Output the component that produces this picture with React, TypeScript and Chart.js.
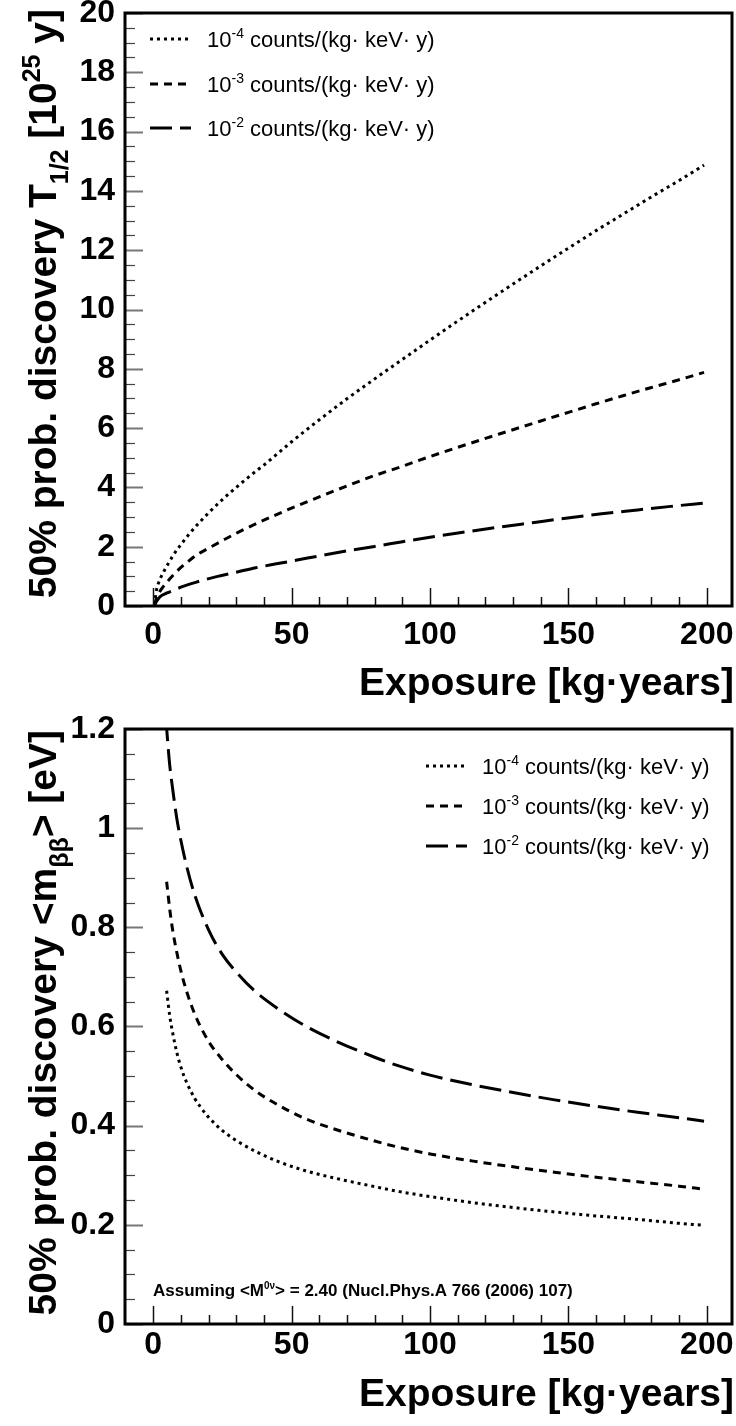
import React, { useEffect, useRef } from "react";
import { Chart, registerables } from "chart.js";

Chart.register(...registerables);

const FONT = '"Liberation Sans", Arial, Helvetica, sans-serif';

// ---------- Top panel: 50% discovery half-life [1e25 y] vs exposure [kg y] ----------
const topExposure4 = [0.5, 0.8, 1.2, 1.7, 2.4, 3.5, 5, 7, 10, 13, 16, 20, 25, 30, 35, 41, 50, 60, 70, 80, 89, 100, 110, 125, 140, 150, 160, 170, 180, 190, 199];
const topHalfLife4 = [0.03, 0.3, 0.55, 0.72, 0.9, 1.11, 1.36, 1.68, 2.07, 2.43, 2.75, 3.14, 3.59, 4.0, 4.39, 4.83, 5.54, 6.28, 6.99, 7.66, 8.25, 8.97, 9.61, 10.55, 11.47, 12.07, 12.66, 13.23, 13.8, 14.35, 14.87];

const topExposure3 = [0.5, 1, 2, 3.6, 5, 7, 10, 13, 16, 20, 31, 43, 52, 60, 70, 80, 89, 100, 110, 125, 140, 150, 160, 170, 180, 190, 199];
const topHalfLife3 = [0.03, 0.22, 0.43, 0.65, 0.81, 1.02, 1.3, 1.53, 1.74, 1.95, 2.5, 3.02, 3.38, 3.68, 4.05, 4.4, 4.68, 5.04, 5.35, 5.8, 6.24, 6.53, 6.82, 7.1, 7.37, 7.63, 7.88];

const topExposure2 = [0.5, 1, 2.4, 5, 7, 10.8, 15, 22.9, 30, 37, 45, 52, 60, 70, 80, 89, 100, 113, 125, 137, 149, 162, 175, 187, 199];
const topHalfLife2 = [0.04, 0.13, 0.31, 0.44, 0.52, 0.66, 0.79, 0.99, 1.14, 1.29, 1.43, 1.55, 1.69, 1.86, 2.01, 2.15, 2.32, 2.5, 2.66, 2.81, 2.96, 3.11, 3.24, 3.36, 3.47];

// ---------- Bottom panel: 50% discovery <m_bb> [eV] vs exposure [kg y] ----------
const botExposure4 = [4.84, 6, 7, 8.5, 10, 12, 15, 17, 20, 25, 30, 37, 45, 55, 65, 80, 89, 100, 115, 130, 145, 160, 175, 190, 199];
const botMass4 = [0.672, 0.62, 0.588, 0.548, 0.518, 0.488, 0.455, 0.438, 0.417, 0.39, 0.37, 0.348, 0.328, 0.309, 0.295, 0.277, 0.267, 0.257, 0.245, 0.235, 0.226, 0.218, 0.211, 0.203, 0.199];

const botExposure3 = [4.84, 6, 7, 8.5, 10, 12, 15, 20, 25, 30, 37, 45, 55, 65, 80, 89, 100, 115, 130, 145, 160, 175, 190, 199];
const botMass3 = [0.892, 0.835, 0.795, 0.75, 0.712, 0.672, 0.625, 0.57, 0.533, 0.503, 0.47, 0.442, 0.414, 0.394, 0.369, 0.356, 0.343, 0.329, 0.317, 0.306, 0.296, 0.287, 0.278, 0.272];

const botExposure2 = [4.6, 5, 6, 7, 8.5, 10, 12, 15, 20, 25, 30, 37, 45, 55, 65, 80, 89, 100, 115, 130, 145, 160, 175, 190, 199];
const botMass2 = [1.22, 1.19, 1.125, 1.08, 1.02, 0.975, 0.925, 0.865, 0.795, 0.745, 0.71, 0.67, 0.636, 0.601, 0.573, 0.538, 0.52, 0.502, 0.483, 0.467, 0.452, 0.439, 0.427, 0.416, 0.409];

// ---------- Ticks, labels ----------
const xTickValues = [0, 50, 100, 150, 200];
const topYTickValues = [0, 2, 4, 6, 8, 10, 12, 14, 16, 18, 20];
const botYTickValues = [0, 0.2, 0.4, 0.6, 0.8, 1, 1.2];
const botYTickLabels = ["0", "0.2", "0.4", "0.6", "0.8", "1", "1.2"];

const legendBase = ["10", "10", "10"];
const legendExponents = ["-4", "-3", "-2"];
const legendUnit = " counts/(kg\u00b7 keV\u00b7 y)";

const xTitle = "Exposure [kg\u00b7years]";
const topYTitle = [
  { t: "50% prob. discovery T", k: "n" },
  { t: "1/2", k: "sub" },
  { t: " [10", k: "n" },
  { t: "25", k: "sup" },
  { t: " y]", k: "n" },
];
const botYTitle = [
  { t: "50% prob. discovery <m", k: "n" },
  { t: "\u03b2\u03b2", k: "sub" },
  { t: "> [eV]", k: "n" },
];
const annotation = [
  { t: "Assuming <M", k: "n" },
  { t: "0\u03bd", k: "sup" },
  { t: "> = 2.40 (Nucl.Phys.A 766 (2006) 107)", k: "n" },
];

const DASHES = [[3, 4], [8, 6], [22, 8]];

function pairs(xs: number[], ys: number[]) {
  return xs.map((x, i) => ({ x, y: ys[i] }));
}

function drawRich(ctx: CanvasRenderingContext2D, segs: any[], x: number, y: number, size: number, weight: string, align: "left" | "right", small = 0.65) {
  const fontOf = (k: string) => `${weight} ${k === "n" ? size : Math.round(size * small)}px ${FONT}`;
  const widths = segs.map((s) => {
    ctx.font = fontOf(s.k);
    return ctx.measureText(s.t).width;
  });
  const total = widths.reduce((a, b) => a + b, 0);
  let cx = align === "right" ? x - total : x;
  ctx.textAlign = "left";
  ctx.textBaseline = "alphabetic";
  segs.forEach((s, i) => {
    ctx.font = fontOf(s.k);
    const dy = s.k === "sup" ? -0.42 * size : s.k === "sub" ? 0.3 * size : 0;
    ctx.fillText(s.t, cx, y + dy);
    cx += widths[i];
  });
}

const rootPlugin = {
  id: "rootFrame",
  afterDatasetsDraw(chart: any, _args: any, o: any) {
    const { ctx, chartArea: a, scales } = chart;
    const xs = scales.x;
    const ys = scales.y;
    ctx.save();
    ctx.setLineDash([]);
    // x ticks (inside, pointing up)
    ctx.strokeStyle = "#111";
    ctx.lineWidth = 1.5;
    const nx = Math.round((o.xEnd - o.xStart) / o.xMinor);
    for (let i = 0; i <= nx; i++) {
      const v = o.xStart + i * o.xMinor;
      const px = Math.round(xs.getPixelForValue(v)) + 0.5;
      const major = i % o.xPerMajor === 0;
      ctx.beginPath();
      ctx.moveTo(px, a.bottom);
      ctx.lineTo(px, a.bottom - (major ? 18 : 9));
      ctx.stroke();
    }
    // y ticks (inside, pointing right)
    const ny = Math.round((o.yEnd - o.yStart) / o.yMinor);
    for (let i = 0; i <= ny; i++) {
      const v = o.yStart + i * o.yMinor;
      const py = Math.round(ys.getPixelForValue(v)) + 0.5;
      const major = i % o.yPerMajor === 0;
      ctx.strokeStyle = major ? "#777" : "#444";
      ctx.lineWidth = major ? 2 : 1.2;
      ctx.beginPath();
      ctx.moveTo(a.left, py);
      ctx.lineTo(a.left + (major ? 18 : 10), py);
      ctx.stroke();
    }
    // frame
    ctx.strokeStyle = "#000";
    ctx.lineWidth = 3;
    ctx.strokeRect(a.left, a.top, a.right - a.left, a.bottom - a.top);

    // legend
    ctx.fillStyle = "#000";
    chart.data.datasets.forEach((ds: any, i: number) => {
      const ry = o.legendRows[i];
      ctx.strokeStyle = "#000";
      ctx.lineWidth = 3;
      ctx.setLineDash(ds.borderDash || []);
      ctx.beginPath();
      ctx.moveTo(o.legendX0, ry);
      ctx.lineTo(o.legendX1, ry);
      ctx.stroke();
      ctx.setLineDash([]);
      drawRich(
        ctx,
        [
          { t: legendBase[i], k: "n" },
          { t: legendExponents[i], k: "sup" },
          { t: legendUnit, k: "n" },
        ],
        o.legendText,
        ry + 8,
        22,
        "normal",
        "left",
        0.62
      );
    });

    // annotation
    if (o.annotation) {
      drawRich(ctx, o.annotation, o.annX, o.annY, 17, "bold", "left", 0.6);
    }

    // x-axis title
    ctx.font = `bold 39px ${FONT}`;
    ctx.textAlign = "right";
    ctx.textBaseline = "middle";
    ctx.fillText(xTitle, 734, o.xTitleY);

    // y-axis title (rotated)
    ctx.save();
    ctx.translate(o.yTitleX, o.yTitleEnd);
    ctx.rotate(-Math.PI / 2);
    drawRich(ctx, o.yTitle, 0, 0, 39, "bold", "right", 0.65);
    ctx.restore();

    ctx.restore();
  },
};

function makeConfig(panel: "top" | "bottom") {
  const isTop = panel === "top";
  const series = isTop
    ? [pairs(topExposure4, topHalfLife4), pairs(topExposure3, topHalfLife3), pairs(topExposure2, topHalfLife2)]
    : [pairs(botExposure4, botMass4), pairs(botExposure3, botMass3), pairs(botExposure2, botMass2)];
  const labels = ["1e-4", "1e-3", "1e-2"];
  const yTicks = isTop ? topYTickValues : botYTickValues;
  const areaTop = isTop ? 13 : 16;
  const areaBottom = isTop ? 606 : 611;
  return {
    type: "line",
    data: {
      datasets: series.map((d, i) => ({
        label: labels[i],
        data: d,
        borderColor: "#000",
        borderWidth: 3,
        borderDash: DASHES[i],
        pointRadius: 0,
        fill: false,
        cubicInterpolationMode: "monotone",
        clip: 0,
      })),
    },
    options: {
      responsive: false,
      animation: false,
      events: [],
      layout: { padding: { top: areaTop, right: 4, left: 0, bottom: 0 } },
      scales: {
        x: {
          type: "linear",
          min: -10.2,
          max: 209.1,
          grid: { display: false, drawTicks: false },
          border: { display: false },
          afterBuildTicks: (s: any) => {
            s.ticks = xTickValues.map((v) => ({ value: v }));
          },
          afterFit: (s: any) => {
            s.height = 713 - areaBottom;
            s.paddingLeft = 0;
            s.paddingRight = 0;
          },
          ticks: {
            padding: isTop ? 13 : 5,
            maxRotation: 0,
            autoSkip: false,
            color: "#000",
            font: { family: FONT, size: 32, weight: "bold", lineHeight: 1 },
            callback: (v: any) => String(v),
          },
        },
        y: {
          type: "linear",
          min: 0,
          max: isTop ? 20 : 1.2,
          grid: { display: false, drawTicks: false },
          border: { display: false },
          afterBuildTicks: (s: any) => {
            s.ticks = yTicks.map((v) => ({ value: v }));
          },
          afterFit: (s: any) => {
            s.width = 125;
            s.paddingTop = 0;
            s.paddingBottom = 0;
          },
          ticks: {
            padding: 10,
            autoSkip: false,
            color: "#000",
            font: { family: FONT, size: 32, weight: "bold", lineHeight: 1 },
            callback: (v: any, idx: number) => (isTop ? String(v) : botYTickLabels[idx]),
          },
        },
      },
      plugins: {
        legend: { display: false },
        tooltip: { enabled: false },
        rootFrame: {
          xStart: 0,
          xEnd: 200,
          xMinor: 10,
          xPerMajor: 5,
          yStart: 0,
          yEnd: isTop ? 20 : 1.2,
          yMinor: isTop ? 0.5 : 0.05,
          yPerMajor: 4,
          legendRows: isTop ? [39, 84, 128] : [53, 93, 133],
          legendX0: isTop ? 150 : 426,
          legendX1: isTop ? 191 : 467,
          legendText: isTop ? 207 : 482,
          annotation: isTop ? null : annotation,
          annX: 153,
          annY: 583,
          xTitleY: isTop ? 684 : 682,
          yTitle: isTop ? topYTitle : botYTitle,
          yTitleX: 56,
          yTitleEnd: isTop ? 9 : 17,
        },
      },
    },
    plugins: [rootPlugin],
  };
}

function Panel({ panel, top }: { panel: "top" | "bottom"; top: number }) {
  const ref = useRef<HTMLCanvasElement | null>(null);
  useEffect(() => {
    if (!ref.current) return;
    const chart = new Chart(ref.current, makeConfig(panel) as any);
    return () => chart.destroy();
  }, [panel]);
  return (
    <canvas
      ref={ref}
      width={736}
      height={713}
      style={{ position: "absolute", left: 0, top, width: 736, height: 713, display: "block" }}
    />
  );
}

export default function App() {
  return (
    <div style={{ position: "absolute", left: 0, top: 0, width: 736, height: 1426, background: "#fff", overflow: "hidden" }}>
      <Panel panel="top" top={0} />
      <Panel panel="bottom" top={713} />
    </div>
  );
}
